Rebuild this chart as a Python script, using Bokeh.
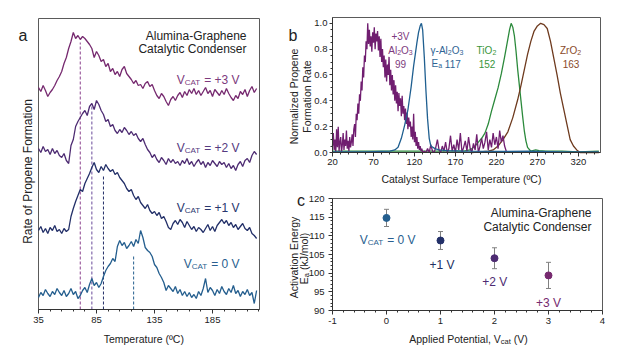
import math
from bokeh.plotting import figure
from bokeh.models import (Range1d, FixedTicker, Label, Whisker, ColumnDataSource,
                          PrintfTickFormatter, LinearAxis)
from bokeh.embed import file_html
from bokeh.resources import INLINE

FONT = "Liberation Sans"

# ---------------- Panel a data (offset TPD traces, arbitrary units) ----------------
temps_a = list(range(35, 224, 2))
rate_3v = [222, 218, 224, 219, 213, 217, 220, 224, 229, 233,
           238, 246, 252, 261, 268, 277, 271, 274, 270, 273,
           271, 268, 265, 261, 252, 258, 254, 248, 250, 243,
           246, 238, 241, 235, 238, 233, 240, 243, 236, 233,
           230, 226, 229, 224, 225, 221, 226, 228, 223, 225,
           219, 214, 211, 216, 213, 208, 204, 210, 213, 209,
           214, 217, 212, 218, 214, 220, 216, 221, 215, 219,
           214, 218, 222, 216, 219, 213, 220, 217, 214, 219,
           215, 221, 216, 212, 209, 214, 211, 218, 215, 220,
           213, 219, 223, 217, 221]
rate_2v = [161, 157, 163, 158, 160, 155, 161, 156, 159, 154,
           152, 156, 149, 146, 164, 170, 183, 188, 192, 196,
           199, 194, 203, 206, 200, 209, 205, 199, 195, 188,
           190, 183, 185, 179, 176, 180, 177, 182, 179, 175,
           178, 174, 176, 171, 168, 171, 165, 160, 157, 152,
           155, 150, 147, 152, 149, 145, 151, 147, 150, 146,
           148, 144, 149, 146, 151, 145, 148, 143, 147, 150,
           145, 148, 142, 147, 144, 149, 146, 143, 148, 145,
           147, 142, 146, 141, 144, 139, 145, 148, 143, 149,
           151, 147, 154, 158, 155]
rate_1v = [79, 83, 77, 81, 76, 82, 79, 84, 78, 80,
           76, 81, 78, 80, 93, 101, 108, 114, 120, 118,
           126, 131, 136, 142, 147, 140, 137, 143, 139, 145,
           141, 138, 140, 135, 137, 132, 129, 126, 121, 118,
           120, 114, 110, 113, 107, 104, 101, 105, 99, 96,
           98, 94, 97, 91, 93, 88, 82, 80, 86, 89,
           85, 90, 87, 82, 88, 84, 80, 83, 78, 82,
           80, 77, 81, 85, 79, 83, 78, 84, 87, 90,
           86, 89, 84, 87, 82, 85, 80, 83, 86, 81,
           79, 82, 76, 74, 71]
rate_0v = [12, 17, 14, 20, 16, 13, 18, 15, 21, 17,
           14, 19, 13, 16, 21, 15, 18, 11, 14, 19,
           22, 17, 25, 31, 24, 27, 22, 26, 33, 39,
           43, 46, 51, 48, 63, 69, 64, 67, 61, 64,
           68, 63, 70, 66, 79, 72, 62, 59, 57, 53,
           45, 42, 36, 32, 27, 19, 24, 21, 18, 23,
           16, 20, 14, 18, 13, 17, 12, 15, 11, 18,
           14, 21, 31, 17, 22, 19, 14, 20, 16, 23,
           18, 15, 21, 17, 24, 16, 19, 13, 18, 15,
           20, 14, 17, 6, 19]
peak_temps_a = [71, 81, 91, 117]
peak_tops_a = [267, 204, 134, 54]
ticks_a = [35, 85, 135, 185]

# ---------------- Panel b data (normalized propene rate) ----------------
temps_b_al3v = list(range(20, 131)) + list(range(132, 233, 2))
rate_b_al3v = [0.05, 0.15, 0.02, 0.10, 0.00, 0.18, 0.04, 0.20, 0.01, 0.08,
               0.12, 0.00, 0.06, 0.15, 0.02, 0.10, 0.05, 0.17, 0.03, 0.09,
               0.01, 0.12, 0.04, 0.08, 0.14, 0.05, 0.18, 0.22, 0.12, 0.30,
               0.25, 0.38, 0.30, 0.45, 0.40, 0.55, 0.48, 0.66, 0.58, 0.75,
               0.70, 0.86, 0.80, 1.00, 0.84, 0.95, 0.82, 0.90, 0.78, 0.93,
               0.85, 0.97, 0.80, 0.92, 0.86, 0.94, 0.79, 0.90, 0.74, 0.88,
               0.70, 0.80, 0.66, 0.75, 0.58, 0.72, 0.55, 0.68, 0.60, 0.74,
               0.52, 0.64, 0.48, 0.60, 0.45, 0.56, 0.40, 0.52, 0.38, 0.47,
               0.32, 0.46, 0.36, 0.42, 0.28, 0.44, 0.30, 0.36, 0.25, 0.34,
               0.22, 0.31, 0.18, 0.27, 0.20, 0.24, 0.12, 0.20, 0.10, 0.30,
               0.08, 0.16, 0.05, 0.12, 0.03, 0.08, 0.02, 0.05, 0.01, 0.03, 0.00,
               0.01, 0.00, 0.03, 0.00, 0.06, 0.01, 0.00, 0.04, 0.10, 0.02,
               0.00, 0.05, 0.01, 0.08, 0.00, 0.03, 0.13, 0.01, 0.06, 0.00,
               0.10, 0.02, 0.15, 0.00, 0.04, 0.09, 0.01, 0.12, 0.03, 0.00,
               0.07, 0.02, 0.14, 0.00, 0.05, 0.11, 0.03, 0.08, 0.16, 0.02,
               0.10, 0.04, 0.15, 0.06, 0.12, 0.03, 0.17, 0.08, 0.13, 0.05,
               0.01]
temps_b_gal = [20, 60, 90, 96, 100, 104, 108, 112, 114, 116, 119, 121, 123, 125, 127,
               128.5, 130, 132, 134, 136, 138, 140, 145, 150, 160, 180, 220, 260, 300, 345]
rate_b_gal = [0.005, 0.005, 0.01, 0.02, 0.04, 0.11, 0.21, 0.33, 0.42, 0.51, 0.67, 0.76, 0.85, 0.93, 0.98,
              1.0, 0.95, 0.74, 0.48, 0.26, 0.11, 0.05, 0.03, 0.02, 0.015, 0.01, 0.008, 0.01, 0.005, 0.005]
temps_b_ti = [20, 100, 150, 180, 188, 194, 198, 202, 206, 210, 214, 218, 222, 226, 230, 234, 236, 238, 240,
              242, 244, 246, 248, 250, 252, 254, 256, 258, 262, 268, 272, 280, 300, 320, 345]
rate_b_ti = [0.01, 0.01, 0.01, 0.01, 0.02, 0.05, 0.08, 0.11, 0.15, 0.22, 0.32, 0.41, 0.50, 0.61, 0.74, 0.88, 0.95, 1.0, 0.97,
             0.90, 0.78, 0.64, 0.52, 0.40, 0.28, 0.17, 0.09, 0.04, 0.01, 0.02, 0.015, 0.01, 0.01, 0.005, 0.01]
temps_b_zr = [190, 200, 210, 216, 222, 228, 234, 240, 246, 250, 254, 258, 262, 266, 270, 274, 278, 282, 286,
              290, 294, 298, 302, 306, 310, 314, 318, 322, 345]
rate_b_zr = [0.0, 0.005, 0.01, 0.02, 0.05, 0.10, 0.16, 0.27, 0.41, 0.52, 0.64, 0.76, 0.86, 0.94, 0.98, 1.0, 0.99, 0.96, 0.86,
             0.73, 0.60, 0.46, 0.34, 0.22, 0.10, 0.05, 0.02, 0.0, 0.0]
ticks_b_x = [20, 70, 120, 170, 220, 270, 320]
ticks_b_y = [0.0, 0.2, 0.4, 0.6, 0.8, 1.0]

# ---------------- Panel c data (activation energy) ----------------
potential = [0, 1, 2, 3]
ea = [114.8, 108.75, 104.0, 99.4]
ea_err = [2.3, 2.4, 2.8, 3.5]
ticks_c_x = [-1, 0, 1, 2, 3, 4]
ticks_c_y = [90, 95, 100, 105, 110, 115, 120]

# colours
C0, C1, C2, C3 = "#245e8e", "#222f68", "#4d2b72", "#76296f"
TXT = "#222222"
BOX = "#5a5a5a"

# ---------------- page geometry (pixels) of the three panel frames ----------------
WPAGE, HPAGE = 637, 351
A_L, A_R, A_T, A_B = 38, 259, 18, 309
B_L, B_R, B_T, B_B = 332, 600, 17, 152
C_L, C_R, C_T, C_B = 332, 602, 198, 310
XA = (35, 225.5)
XB, YB = (20, 347), (0, 1.045)
XC, YC = (-1, 4), (90, 120)


def span_x(lo_hi, left, right):
    lo, hi = lo_hi
    k = (hi - lo) / (right - left)
    return Range1d(lo - left * k, lo + (WPAGE - left) * k)


def span_y(lo_hi, top, bottom):
    lo, hi = lo_hi
    k = (hi - lo) / (bottom - top)
    return Range1d(lo - (HPAGE - bottom) * k, lo + bottom * k)


# one canvas in page-pixel coordinates; each panel has its own ranges
p = figure(width=WPAGE, height=HPAGE, x_range=Range1d(0, WPAGE), y_range=Range1d(HPAGE, 0),
           x_axis_type=None, y_axis_type=None, output_backend="svg", toolbar_location=None,
           min_border=0, min_border_left=0, min_border_right=0, min_border_top=0, min_border_bottom=0)
p.outline_line_color = None
p.xgrid.visible = False
p.ygrid.visible = False
p.background_fill_color = "white"
p.border_fill_color = "white"

p.extra_x_ranges = {"ax": span_x(XA, A_L, A_R), "bx": span_x(XB, B_L, B_R), "cx": span_x(XC, C_L, C_R)}
p.extra_y_ranges = {"ay": span_y((0, A_B - A_T), A_T, A_B), "by": span_y(YB, B_T, B_B),
                    "cy": span_y(YC, C_T, C_B)}

# Arial / Liberation Sans advance widths (per 1000 em) for composing sub-scripted text
W = {' ': 278, '+': 584, '=': 584, '-': 333, ',': 278, '(': 333, ')': 333, '/': 278,
     'A': 667, 'C': 722, 'E': 667, 'O': 778, 'P': 667, 'T': 611, 'V': 667, 'Z': 611, 'J': 500,
     'a': 556, 'c': 500, 'd': 556, 'e': 556, 'i': 222, 'k': 500, 'l': 222, 'm': 833, 'n': 556,
     'o': 556, 'p': 556, 'r': 333, 't': 278, 'u': 556, '\u03b3': 500}


def tw(s, size):
    return sum(W.get(ch, 556) for ch in s) / 1000.0 * size


def add_text(px, py, text, size, color, align="left", angle=0.0):
    p.add_layout(Label(x=px, y=py, text=text, text_font=FONT, text_font_size=f"{size}px",
                       text_color=color, text_align=align, text_baseline="alphabetic",
                       angle=angle))


def add_rich(px, py, segs, color, align="left", vertical=False):
    widths = [tw(t, s) for t, s, d in segs]
    total = sum(widths)
    pos = {"left": 0.0, "center": -total / 2.0, "right": -total}[align]
    for (t, s, d), w in zip(segs, widths):
        lead = len(t) - len(t.lstrip(" "))
        start = pos + tw(" " * lead, s)
        txt = t.strip(" ")
        if txt:
            if vertical:
                add_text(px + d, py - start, txt, s, color, angle=math.pi / 2)
            else:
                add_text(px + start, py + d, txt, s, color)
        pos += w


def style_axis(ax, ticks, minor, fmt=None, tick_out=4, standoff=3):
    ax.ticker = FixedTicker(ticks=ticks, minor_ticks=minor)
    ax.axis_line_color = "#333333"
    ax.major_tick_line_color = "#333333"
    ax.minor_tick_line_color = "#333333"
    ax.major_tick_out = tick_out
    ax.major_tick_in = 0
    ax.minor_tick_out = 2
    ax.minor_tick_in = 0
    ax.major_label_text_font = FONT
    ax.major_label_text_font_size = "9.5px"
    ax.major_label_text_color = TXT
    ax.major_label_standoff = standoff
    if fmt:
        ax.formatter = PrintfTickFormatter(format=fmt)


# panel frames
p.quad(left=[A_L, B_L, C_L], right=[A_R, B_R, C_R], top=[A_T, B_T, C_T], bottom=[A_B, B_B, C_B],
       fill_color=None, line_color=BOX, line_width=1)

# ---------------- Panel a ----------------
ax_a = LinearAxis(x_range_name="ax", fixed_location=A_B, bounds=XA)
style_axis(ax_a, ticks_a, [t for t in range(45, 226, 10) if t not in ticks_a])
p.add_layout(ax_a, "below")

dash_cols = ["#8a3f8c", "#6a4a9a", C1, C0]
p.segment(x0=peak_temps_a, y0=[0] * 4, x1=peak_temps_a, y1=peak_tops_a,
          line_color=dash_cols, line_width=1, line_dash="3 2", x_range_name="ax", y_range_name="ay")
for vals, col in [(rate_3v, C3), (rate_2v, C2), (rate_1v, C1), (rate_0v, C0)]:
    p.line(temps_a, vals, line_color=col, line_width=1.3, x_range_name="ax", y_range_name="ay")

add_text(246, 35, "Alumina-Graphene", 12, TXT, align="right")
add_text(246, 48, "Catalytic Condenser", 12, TXT, align="right")
for lab, base, col in [(" = +3 V", 79, "#7d3a7d"), (" = +2 V", 147, "#553a80"),
                       (" = +1 V", 207.5, "#28366e"), (" = 0 V", 263.5, "#2a5f90")]:
    add_rich(239, base, [("V", 12, 0), ("CAT", 8, 2.5), (lab, 12, 0)], col, align="right")
add_text(18, 35, "a", 16, TXT)
add_text(27, 171, "Rate of Propene Formation", 12, TXT, align="center", angle=math.pi / 2)
add_text(143.3, 338.5, "Temperature (\u00baC)", 10.5, TXT, align="center")

# ---------------- Panel b ----------------
ax_bx = LinearAxis(x_range_name="bx", fixed_location=B_B, bounds=XB)
style_axis(ax_bx, ticks_b_x, [t for t in range(30, 347, 10) if t not in ticks_b_x], standoff=2)
p.add_layout(ax_bx, "below")
ax_by = LinearAxis(y_range_name="by", fixed_location=B_L, bounds=YB)
style_axis(ax_by, ticks_b_y, [round(i * 0.05, 2) for i in range(21) if i % 4 != 0], fmt="%.1f",
           tick_out=3, standoff=2)
p.add_layout(ax_by, "left")

for tt, vv, col in [(temps_b_ti, rate_b_ti, "#2c8a3c"), (temps_b_zr, rate_b_zr, "#6e3a1e"),
                    (temps_b_al3v, rate_b_al3v, "#701e70"), (temps_b_gal, rate_b_gal, "#1f5f90")]:
    p.line(tt, vv, line_color=col, line_width=1.3, x_range_name="bx", y_range_name="by")

PUR_T, BLU_T, GRN_T, BRN_T = "#7d3a7d", "#2f6494", "#3a963a", "#8a4a2a"
add_text(400, 36, "+3V", 10, PUR_T, align="center")
add_rich(400, 50, [("Al", 10, 0), ("2", 7, 2), ("O", 10, 0), ("3", 7, 2)], PUR_T, align="center")
add_text(400, 63, "99", 10, PUR_T, align="center")
add_rich(446.5, 50, [("\u03b3-Al", 10, 0), ("2", 7, 2), ("O", 10, 0), ("3", 7, 2)], BLU_T, align="center")
add_rich(446, 63, [("E", 10, 0), ("a", 7, 2), (" 117", 10, 0)], BLU_T, align="center")
add_rich(486, 50, [("TiO", 10, 0), ("2", 7, 2)], GRN_T, align="center")
add_text(486.5, 63, "152", 10, GRN_T, align="center")
add_rich(570, 50, [("ZrO", 10, 0), ("2", 7, 2)], BRN_T, align="center")
add_text(570.5, 63, "163", 10, BRN_T, align="center")
add_text(288, 35, "b", 16, TXT)
add_text(293.5, 96, "Normalized Propene", 10.5, TXT, align="center", angle=math.pi / 2)
add_text(306.5, 96, "Formation Rate", 10.5, TXT, align="center", angle=math.pi / 2)
add_text(461, 178, "Catalyst Surface Temperature (\u00baC)", 10.5, TXT, align="center")

# ---------------- Panel c ----------------
ax_cx = LinearAxis(x_range_name="cx", fixed_location=C_B, bounds=XC)
style_axis(ax_cx, ticks_c_x, [round(-1 + i * 0.2, 1) for i in range(26) if i % 5 != 0], fmt="%d")
p.add_layout(ax_cx, "below")
ax_cy = LinearAxis(y_range_name="cy", fixed_location=C_L, bounds=YC)
style_axis(ax_cy, ticks_c_y, [t for t in range(90, 121) if t % 5 != 0], fmt="%d", standoff=4)
p.add_layout(ax_cy, "left")

src_c = ColumnDataSource(dict(x=potential, y=ea,
                              lo=[v - e for v, e in zip(ea, ea_err)],
                              hi=[v + e for v, e in zip(ea, ea_err)],
                              col=[C0, C1, C2, C3]))
wh = Whisker(source=src_c, base="x", upper="hi", lower="lo", line_color="#808080", line_width=1,
             x_range_name="cx", y_range_name="cy")
wh.upper_head.size = 5
wh.lower_head.size = 5
wh.upper_head.line_color = "#808080"
wh.lower_head.line_color = "#808080"
p.add_layout(wh)
p.scatter("x", "y", source=src_c, size=7, fill_color="col", line_color="col",
          x_range_name="cx", y_range_name="cy")

add_text(591, 212.5, "Alumina-Graphene", 12, TXT, align="right")
add_text(591, 226, "Catalytic Condenser", 12, TXT, align="right")
add_rich(359.3, 239.5, [("V", 12, 0), ("CAT", 8, 2.5), (" = 0 V", 12, 0)], "#2a5f90")
add_text(441.5, 264.5, "+1 V", 12, "#222f62", align="center")
add_text(494.3, 281.5, "+2 V", 12, "#4d2b72", align="center")
add_text(548, 302, "+3 V", 12, "#76296f", align="center")
add_text(296.5, 200, "c", 16, TXT)
add_text(293, 257, "Activation Energy", 10.5, TXT, align="center", angle=math.pi / 2)
add_rich(303.5, 258, [("E", 10.5, 0), ("a", 7.5, 2), (" (kJ/mol)", 10.5, 0)], TXT,
         align="center", vertical=True)
add_rich(468, 338.5, [("Applied Potential, V", 10.5, 0), ("cat", 7.5, 2), (" (V)", 10.5, 0)], TXT,
         align="center")

open("out.html", "w").write(file_html(p, INLINE))
